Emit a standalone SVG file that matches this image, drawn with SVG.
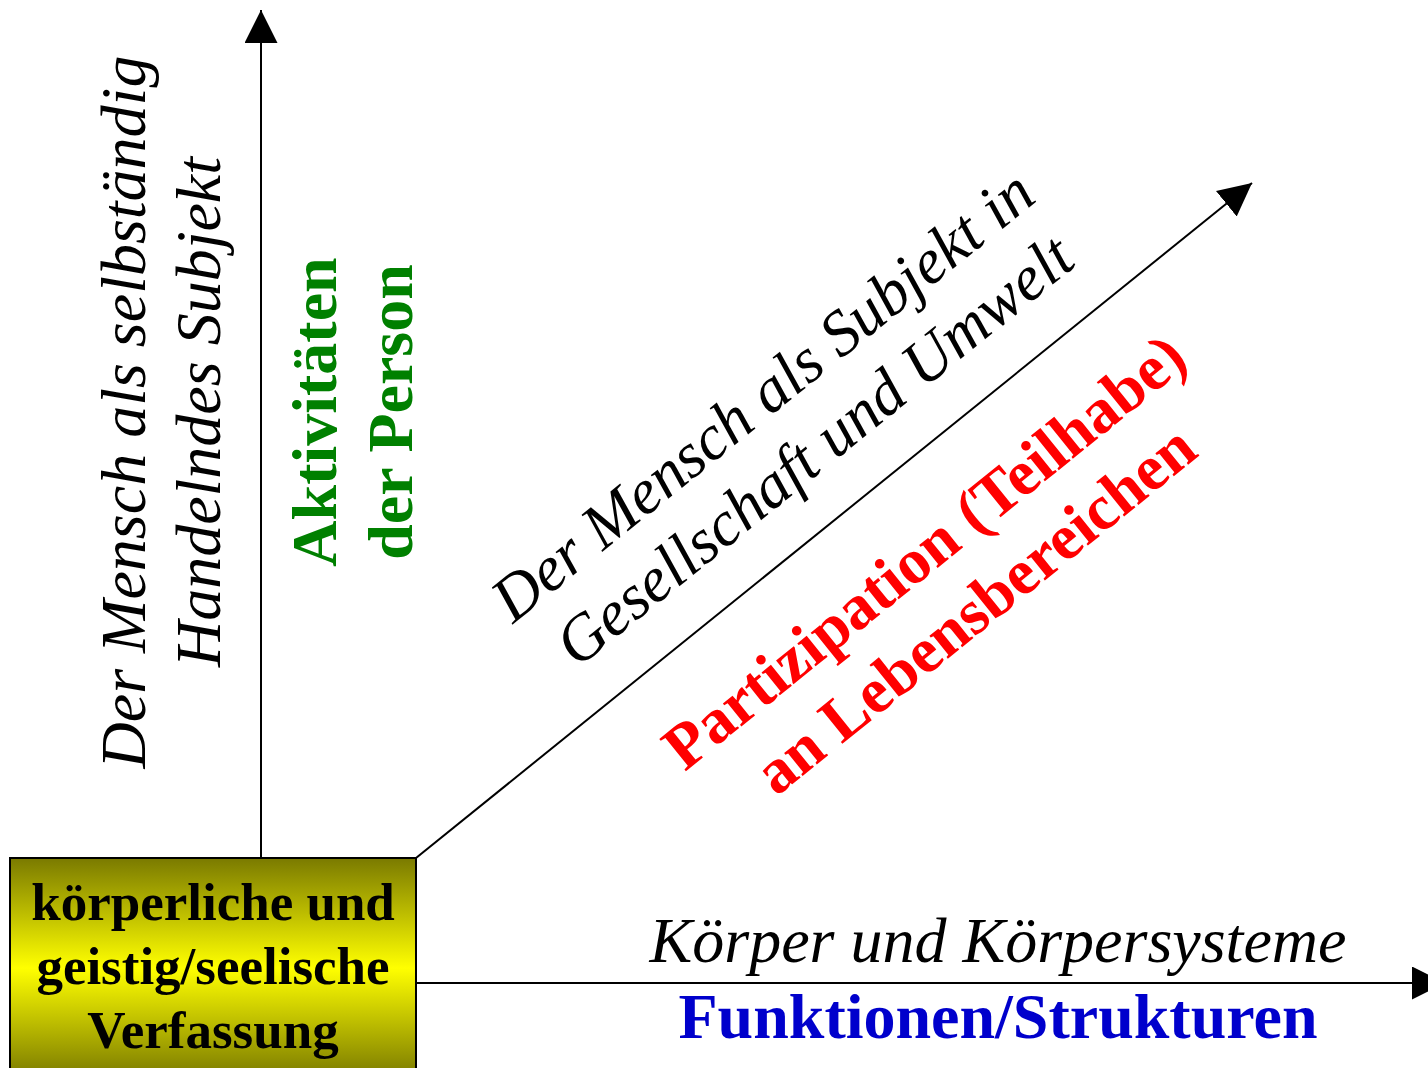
<svg xmlns="http://www.w3.org/2000/svg" width="1428" height="1068" viewBox="0 0 1428 1068">
<defs>
<linearGradient id="olive" x1="0" y1="0" x2="0" y2="1">
<stop offset="0" stop-color="#7a7a00"/>
<stop offset="0.5" stop-color="#ffff00"/>
<stop offset="1" stop-color="#7a7a00"/>
</linearGradient>
<marker id="arr" markerUnits="userSpaceOnUse" markerWidth="34" markerHeight="34" refX="33" refY="16.5" orient="auto" viewBox="0 0 34 34">
<path d="M0,0 L33,16.5 L0,33 Z" fill="#000"/>
</marker>
<style>
.ax{stroke:#000;stroke-width:2;fill:none;marker-end:url(#arr)}
.it{font-family:"Liberation Serif","Times New Roman",serif;font-style:italic;font-size:64px;fill:#000;text-anchor:middle}
.bd{font-family:"Liberation Serif","Times New Roman",serif;font-weight:bold;font-size:64px;text-anchor:middle}
.box{font-family:"Liberation Serif","Times New Roman",serif;font-weight:bold;font-size:53px;fill:#000;text-anchor:middle}
</style>
</defs>
<rect width="1428" height="1068" fill="#fff"/>
<g id="connectors">
<line class="ax" x1="261" y1="858" x2="261" y2="10"/>
<line class="ax" x1="416" y1="983" x2="1445" y2="983"/>
<line class="ax" x1="416" y1="858" x2="1252" y2="183"/>
</g>
<g id="node-verfassung">
<rect x="10" y="858" width="406" height="220" fill="url(#olive)" stroke="#000" stroke-width="2"/>
<text class="box" x="213" y="920">körperliche und</text>
<text class="box" x="213" y="984">geistig/seelische</text>
<text class="box" x="213" y="1048">Verfassung</text>
</g>
<g id="label-vertical">
<text class="it" transform="translate(145,412) rotate(-90)">Der Mensch als selbständig</text>
<text class="it" transform="translate(220,412) rotate(-90)">Handelndes Subjekt</text>
</g>
<g id="label-aktivitaeten">
<text class="bd" fill="#008000" transform="translate(336,412) rotate(-90)">Aktivitäten</text>
<text class="bd" fill="#008000" transform="translate(412,412) rotate(-90)">der Person</text>
</g>
<g id="label-horizontal">
<text class="it" x="998" y="962">Körper und Körpersysteme</text>
<text class="bd" fill="#0000cc" x="998" y="1038">Funktionen/Strukturen</text>
</g>
<g id="label-diagonal" transform="translate(416,858) rotate(-38.92)">
<text class="it" x="560" y="-121">Der Mensch als Subjekt in</text>
<text class="it" x="566" y="-46">Gesellschaft und Umwelt</text>
<text class="bd" fill="#ff0000" x="588" y="102">Partizipation (Teilhabe)</text>
<text class="bd" fill="#ff0000" x="591" y="179">an Lebensbereichen</text>
</g>
</svg>
